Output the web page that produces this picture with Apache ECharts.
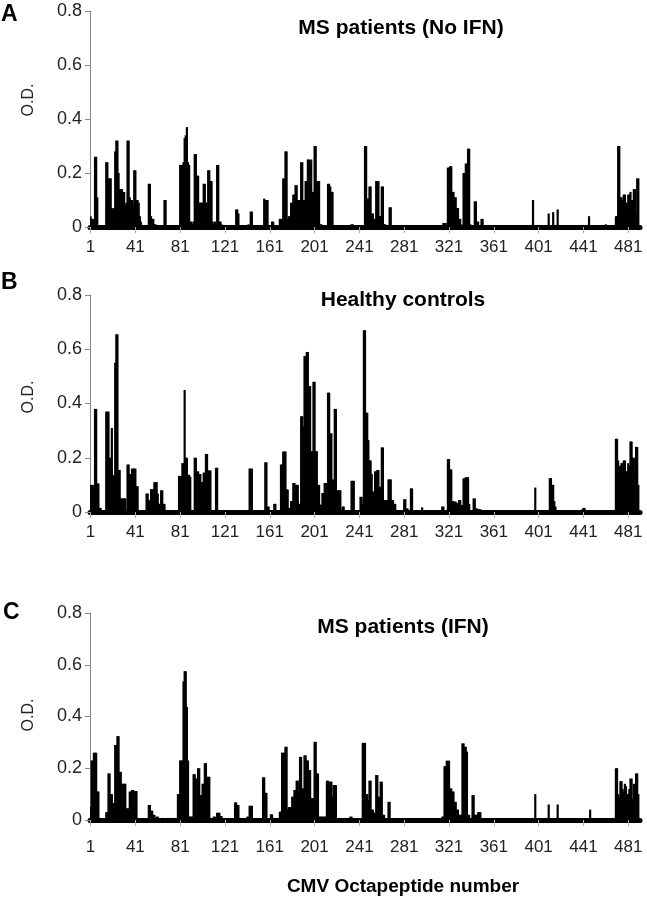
<!DOCTYPE html>
<html>
<head>
<meta charset="utf-8">
<script src="https://cdn.jsdelivr.net/npm/echarts@6/dist/echarts.min.js"></script>
<style>
html,body{margin:0;padding:0;background:#fff;}
#chart{width:647px;height:900px;}
</style>
</head>
<body>
<div id="chart"></div>
<script>
// ---- data (category = CMV octapeptide number, value = O.D.) ----
const N_PEPTIDES = 491;
const tickLabelEvery = 40;
const yTicks = [0, 0.2, 0.4, 0.6, 0.8];

// Panel A: MS patients (No IFN)  [peptide, O.D.]
const msNoIfn = [
[1,0.04],[2,0.03],[3,0.03],[4,0.03],[5,0.26],[6,0.26],[7,0.11],
[15,0.24],[16,0.24],[17,0.18],[18,0.18],[19,0.18],[20,0.07],[21,0.06],[22,0.07],[23,0.28],[24,0.32],[25,0.32],[26,0.2],[27,0.14],[28,0.14],[29,0.14],[30,0.13],[31,0.13],[32,0.08],[33,0.09],[34,0.32],[35,0.32],[36,0.11],[37,0.10],[38,0.10],[39,0.08],[40,0.21],[41,0.21],[42,0.10],[43,0.10],[44,0.09],[45,0.04],[46,0.02],
[53,0.16],[54,0.16],[55,0.04],[56,0.03],[57,0.03],[58,0.01],[59,0.01],
[67,0.10],[68,0.10],
[81,0.23],[82,0.23],[83,0.23],[84,0.24],[85,0.33],[86,0.34],[87,0.37],[88,0.24],[89,0.23],[90,0.02],[91,0.02],[92,0.01],[93,0.02],[94,0.27],[95,0.27],[96,0.19],[97,0.19],[98,0.09],[99,0.09],[100,0.09],[101,0.09],[102,0.16],[103,0.16],[104,0.09],[105,0.09],[106,0.21],[107,0.21],[108,0.17],[109,0.17],[110,0.02],[111,0.01],[112,0.02],[113,0.01],[114,0.23],[115,0.23],[116,0.02],[117,0.02],[118,0.01],
[131,0.065],[132,0.065],[133,0.05],
[142,0.01],[144,0.057],[145,0.057],
[156,0.105],[157,0.10],[158,0.10],[159,0.10],
[163,0.02],[164,0.02],
[170,0.03],[171,0.03],[172,0.03],[173,0.18],[174,0.18],[175,0.28],[176,0.28],[177,0.03],[178,0.04],[179,0.04],[180,0.09],[181,0.09],[182,0.12],[183,0.12],[184,0.155],[185,0.155],[186,0.10],[187,0.10],[188,0.10],[189,0.24],[190,0.24],[191,0.10],[192,0.10],[193,0.17],[194,0.17],[195,0.25],[196,0.25],[197,0.23],[198,0.25],[199,0.13],[200,0.13],[201,0.30],[202,0.30],[203,0.17],[204,0.17],[205,0.17],[206,0.01],[207,0.01],
[213,0.16],[214,0.16],[215,0.15],[216,0.13],[217,0.13],
[234,0.01],[235,0.01],
[246,0.30],[247,0.30],[248,0.105],[249,0.105],[250,0.15],[251,0.15],[252,0.05],[253,0.05],[254,0.03],[255,0.03],[256,0.17],[257,0.17],[258,0.17],[259,0.04],[260,0.04],[261,0.15],[262,0.15],[263,0.01],[264,0.01],
[268,0.073],[269,0.073],
[316,0.015],[317,0.015],[318,0.015],[320,0.22],[321,0.22],[322,0.225],[323,0.225],[324,0.13],[325,0.13],[326,0.11],[327,0.11],[328,0.07],[329,0.07],[330,0.03],[331,0.03],[332,0.01],[334,0.2],[335,0.2],[336,0.235],[337,0.235],[338,0.29],[339,0.29],[340,0.01],[344,0.095],[345,0.095],[346,0.02],[347,0.02],[350,0.03],[351,0.03],
[396,0.10],[410,0.05],[414,0.055],[418,0.065],[446,0.04],[461,0.01],
[470,0.04],[471,0.04],[472,0.30],[473,0.30],[474,0.11],[475,0.11],[476,0.10],[477,0.12],[478,0.12],[479,0.09],[480,0.09],[481,0.12],[482,0.12],[483,0.13],[484,0.10],[485,0.10],[486,0.14],[487,0.14],[488,0.05],[489,0.18],[490,0.18]
];

// Panel B: Healthy controls
const healthy = [
[1,0.10],[2,0.10],[3,0.10],[4,0.09],[5,0.38],[6,0.38],[7,0.105],[8,0.105],[9,0.015],[10,0.015],
[15,0.37],[16,0.37],[17,0.37],[18,0.2],[19,0.2],[20,0.31],[21,0.135],[22,0.135],[23,0.55],[24,0.655],[25,0.655],[26,0.155],[27,0.155],[28,0.05],[29,0.05],[30,0.05],[31,0.05],[32,0.05],
[34,0.175],[35,0.175],[36,0.14],[37,0.14],[38,0.16],[39,0.16],[40,0.16],[41,0.16],[42,0.095],[43,0.095],
[51,0.068],[52,0.068],[53,0.043],[54,0.043],[55,0.084],[56,0.084],[57,0.084],[58,0.11],[59,0.11],[60,0.11],[61,0.068],[62,0.03],[63,0.03],[64,0.08],[65,0.08],[66,0.03],[67,0.03],
[80,0.133],[81,0.133],[82,0.133],[83,0.18],[84,0.18],[85,0.45],[86,0.2],[87,0.2],[88,0.137],[89,0.137],[90,0.13],
[94,0.2],[95,0.2],[96,0.15],[97,0.15],[98,0.14],[99,0.14],[100,0.11],[101,0.11],[102,0.145],[103,0.145],[104,0.214],[105,0.214],[106,0.153],[107,0.153],[108,0.153],
[113,0.163],[114,0.163],
[132,0.005],
[143,0.16],[144,0.16],[145,0.16],
[157,0.183],[158,0.183],[159,0.02],[160,0.02],
[165,0.03],[166,0.03],
[171,0.175],[172,0.175],[173,0.223],[174,0.223],[175,0.223],[176,0.083],[177,0.083],[178,0.015],[179,0.015],[180,0.04],[181,0.04],[182,0.107],[183,0.107],[184,0.1],[185,0.1],[186,0.1],[187,0.03],[188,0.03],[189,0.353],[190,0.353],[191,0.316],[192,0.575],[193,0.575],[194,0.59],[195,0.59],[196,0.464],[197,0.464],[198,0.224],[199,0.224],[200,0.48],[201,0.48],[202,0.224],[203,0.224],[204,0.1],[205,0.1],[206,0.027],[207,0.027],[208,0.07],[209,0.07],[210,0.107],[211,0.107],[212,0.107],
[213,0.44],[214,0.44],[215,0.29],[216,0.29],[217,0.12],[218,0.12],[219,0.38],[220,0.38],[221,0.08],[222,0.08],[223,0.08],[224,0.08],[226,0.02],[227,0.02],
[234,0.115],[235,0.115],[236,0.115],
[242,0.056],[243,0.056],[244,0.03],[245,0.67],[246,0.67],[247,0.366],[248,0.366],[249,0.265],[250,0.19],[251,0.19],[252,0.14],[253,0.075],[254,0.075],[255,0.15],[256,0.15],[257,0.155],[258,0.155],[259,0.093],[260,0.093],[261,0.238],[262,0.238],[263,0.044],[264,0.044],[265,0.044],[266,0.044],[267,0.12],[268,0.12],[269,0.12],[270,0.044],[271,0.044],[272,0.03],[273,0.03],
[281,0.047],[282,0.047],[283,0.013],[284,0.013],
[287,0.087],[288,0.087],
[297,0.017],
[315,0.02],[316,0.02],
[320,0.195],[321,0.195],[322,0.157],[323,0.157],[324,0.04],[325,0.04],[326,0.038],[327,0.038],[328,0.032],[329,0.032],[330,0.044],[331,0.044],[332,0.026],[333,0.026],[334,0.124],[335,0.124],[336,0.128],[337,0.128],[338,0.128],[339,0.03],
[343,0.05],[344,0.05],[345,0.013],[346,0.013],[347,0.01],[348,0.01],[349,0.01],
[398,0.09],[411,0.125],[412,0.125],[413,0.10],[414,0.10],[415,0.04],[416,0.02],
[440,0.01],[441,0.015],[442,0.015],
[470,0.27],[471,0.27],[472,0.19],[473,0.17],[474,0.17],[475,0.18],[476,0.18],[477,0.19],[478,0.19],[479,0.15],[480,0.15],[481,0.18],[482,0.17],[483,0.26],[484,0.26],[485,0.2],[486,0.2],[487,0.15],[488,0.24],[489,0.24],[490,0.1]
];

// Panel C: MS patients (IFN)
const msIfn = [
[1,0.05],[2,0.23],[3,0.23],[4,0.26],[5,0.26],[6,0.26],[7,0.11],[8,0.11],
[15,0.03],[16,0.03],[17,0.18],[18,0.18],[19,0.10],[20,0.10],[21,0.065],[22,0.065],[23,0.29],[24,0.29],[25,0.324],[26,0.324],[27,0.186],[28,0.186],[29,0.14],[30,0.14],[31,0.14],[32,0.14],[33,0.045],[34,0.045],[35,0.045],[36,0.11],[37,0.11],[38,0.116],[39,0.116],[40,0.112],[41,0.112],[42,0.112],
[53,0.058],[54,0.058],[55,0.036],[56,0.036],[57,0.02],[58,0.02],[60,0.013],[61,0.013],
[65,0.008],[66,0.008],[70,0.008],[71,0.008],[74,0.008],[75,0.008],
[79,0.10],[80,0.10],[81,0.23],[82,0.23],[83,0.23],[84,0.536],[85,0.575],[86,0.575],[87,0.437],[88,0.23],[89,0.013],[90,0.013],[91,0.013],[92,0.013],[93,0.177],[94,0.177],[95,0.16],[96,0.16],[97,0.2],[98,0.2],[99,0.096],[100,0.096],[101,0.14],[102,0.14],[103,0.22],[104,0.22],[105,0.167],[106,0.167],[107,0.167],
[111,0.013],[112,0.013],[114,0.028],[115,0.028],[116,0.028],[117,0.015],[118,0.015],
[130,0.068],[131,0.068],[132,0.058],[133,0.058],
[141,0.013],[142,0.013],[143,0.055],[144,0.055],[145,0.055],
[155,0.165],[156,0.165],[157,0.105],[158,0.105],
[162,0.022],[163,0.022],
[170,0.032],[171,0.032],[172,0.26],[173,0.26],[174,0.26],[175,0.283],[176,0.283],[177,0.04],[178,0.05],[179,0.05],[180,0.05],[181,0.09],[182,0.09],[183,0.116],[184,0.116],[185,0.152],[186,0.152],[187,0.11],[188,0.244],[189,0.244],[190,0.122],[191,0.122],[192,0.25],[193,0.25],[194,0.23],[195,0.23],[196,0.193],[197,0.193],[198,0.084],[199,0.084],[200,0.084],[201,0.302],[202,0.302],[203,0.18],[204,0.18],[205,0.013],[206,0.013],[207,0.013],[208,0.013],[209,0.013],[210,0.013],[211,0.013],
[212,0.152],[213,0.152],[214,0.148],[215,0.148],[216,0.148],[217,0.09],[218,0.135],[219,0.135],[220,0.135],
[233,0.013],[234,0.013],
[244,0.298],[245,0.298],[246,0.298],[247,0.1],[248,0.1],[249,0.077],[250,0.152],[251,0.152],[252,0.04],[253,0.04],[254,0.028],[255,0.028],[256,0.174],[257,0.174],[258,0.09],[259,0.09],[260,0.148],[261,0.148],[262,0.02],[263,0.02],[267,0.07],[268,0.07],
[315,0.013],[316,0.013],[317,0.208],[318,0.208],[319,0.229],[320,0.229],[321,0.229],[322,0.122],[323,0.122],[324,0.11],[325,0.11],[326,0.07],[327,0.07],[328,0.04],[329,0.04],[330,0.02],[331,0.02],[332,0.02],[333,0.296],[334,0.296],[335,0.283],[336,0.283],[337,0.264],[338,0.02],[339,0.02],[342,0.096],[343,0.096],[344,0.02],[345,0.02],[346,0.02],[347,0.03],[348,0.03],[349,0.03],
[398,0.10],[410,0.06],[418,0.06],[447,0.04],
[470,0.2],[471,0.2],[472,0.1],[473,0.09],[474,0.15],[475,0.15],[476,0.12],[477,0.11],[478,0.14],[479,0.13],[480,0.1],[481,0.1],[482,0.12],[483,0.16],[484,0.16],[485,0.08],[486,0.14],[487,0.12],[488,0.18],[489,0.18],[490,0.1]
];

const panelTitles = ['MS patients (No IFN)', 'Healthy controls', 'MS patients (IFN)'];
const panelLetters = ['A', 'B', 'C'];
const yAxisName = 'O.D.';
const xAxisName = 'CMV Octapeptide number';

// ---- build ----
const categories = [];
for (let i = 1; i <= N_PEPTIDES; i++) categories.push(String(i));
function dense(pairs) {
  const a = new Array(N_PEPTIDES).fill(0);
  pairs.forEach(p => { a[p[0] - 1] = p[1]; });
  return a;
}
const seriesData = [dense(msNoIfn), dense(healthy), dense(msIfn)];

const FONT = '"Liberation Sans", Arial, sans-serif';
const grids = [
  {left: 90, top: 11, width: 550, height: 216},
  {left: 90, top: 295, width: 550, height: 217},
  {left: 90, top: 613, width: 550, height: 207}
];
const labelMargins = [9, 9, 16];

const option = {
  animation: false,
  backgroundColor: '#fff',
  grid: grids,
  xAxis: grids.map((g, i) => ({
    type: 'category',
    gridIndex: i,
    data: categories,
    offset: 2.5,
    axisLine: {show: true, lineStyle: {color: '#000', width: 5}},
    axisTick: {show: true, interval: tickLabelEvery - 1, alignWithLabel: true, length: 6, lineStyle: {color: '#aaa', width: 1}},
    axisLabel: {interval: tickLabelEvery - 1, margin: labelMargins[i], fontFamily: FONT, fontSize: 17, color: '#222'},
    splitLine: {show: false}
  })),
  yAxis: grids.map((g, i) => ({
    type: 'value',
    gridIndex: i,
    min: yTicks[0],
    max: yTicks[yTicks.length - 1],
    interval: 0.2,
    axisLine: {show: true, lineStyle: {color: '#888', width: 1}},
    axisTick: {show: true, length: 5, lineStyle: {color: '#888'}},
    axisLabel: {margin: 8, fontFamily: FONT, fontSize: 18, color: '#222',
      formatter: v => (v === 0 ? '0' : v.toFixed(1))},
    splitLine: {show: false}
  })),
  series: seriesData.map((d, i) => ({
    type: 'bar',
    xAxisIndex: i,
    yAxisIndex: i,
    data: d,
    barWidth: 2.2,
    itemStyle: {color: '#000'},
    z: 1
  })),
  graphic: [
    {type: 'text', left: 1, top: 3, style: {text: panelLetters[0], font: 'bold 23px ' + FONT, fill: '#000'}},
    {type: 'text', left: 1, top: 271, style: {text: panelLetters[1], font: 'bold 23px ' + FONT, fill: '#000'}},
    {type: 'text', left: 3, top: 601, style: {text: panelLetters[2], font: 'bold 23px ' + FONT, fill: '#000'}},
    {type: 'text', x: 401, y: 28, style: {text: panelTitles[0], font: 'bold 21px ' + FONT, fill: '#000', align: 'center', verticalAlign: 'middle'}},
    {type: 'text', x: 403, y: 300, style: {text: panelTitles[1], font: 'bold 21px ' + FONT, fill: '#000', align: 'center', verticalAlign: 'middle'}},
    {type: 'text', x: 403, y: 627, style: {text: panelTitles[2], font: 'bold 21px ' + FONT, fill: '#000', align: 'center', verticalAlign: 'middle'}},
    {type: 'text', x: 29, y: 100, rotation: Math.PI / 2, style: {text: yAxisName, font: '16px ' + FONT, fill: '#222', align: 'center', verticalAlign: 'middle'}},
    {type: 'text', x: 29, y: 397, rotation: Math.PI / 2, style: {text: yAxisName, font: '16px ' + FONT, fill: '#222', align: 'center', verticalAlign: 'middle'}},
    {type: 'text', x: 29, y: 715, rotation: Math.PI / 2, style: {text: yAxisName, font: '16px ' + FONT, fill: '#222', align: 'center', verticalAlign: 'middle'}},
    {type: 'text', x: 403, y: 887, style: {text: xAxisName, font: 'bold 19px ' + FONT, fill: '#000', align: 'center', verticalAlign: 'middle'}}
  ]
};

const chart = echarts.init(document.getElementById('chart'), null, {renderer: 'canvas'});
chart.setOption(option);
</script>
</body>
</html>
